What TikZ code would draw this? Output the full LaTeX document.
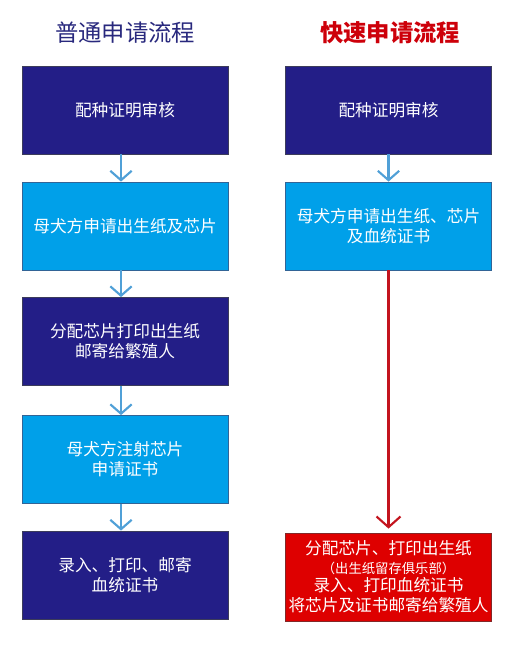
\documentclass[tikz,border=0pt]{standalone}
\usepackage{fontspec}
\setmainfont{Noto Sans CJK SC}
\usetikzlibrary{arrows.meta}
\definecolor{navy}{RGB}{35,30,135}
\definecolor{skyb}{RGB}{0,160,233}
\definecolor{redb}{RGB}{222,0,0}
\definecolor{titlenavy}{RGB}{40,40,125}
\definecolor{titlered}{RGB}{205,0,10}
\definecolor{arrowb}{RGB}{80,160,215}
\definecolor{arrowr}{RGB}{195,20,30}
\definecolor{edgedark}{RGB}{60,60,90}
\definecolor{edgelight}{RGB}{50,100,150}
\definecolor{edgered}{RGB}{130,40,40}
\tikzset{
  boxbase/.style={minimum width=154.5pt, minimum height=66pt, inner sep=0pt, text=white,
    font=\fontsize{12.5}{15}\selectfont, align=center, line width=0.6pt},
  darkbox/.style={boxbase, fill=navy, draw=edgedark},
  lightbox/.style={boxbase, fill=skyb, draw=edgelight},
  redbox/.style={boxbase, fill=redb, draw=edgered},
  bluearrow/.style={draw=arrowb, line width=1.6pt, -{Straight Barb[length=7pt,width=16pt,line width=1.6pt]}},
  redarrow/.style={draw=arrowr, line width=1.6pt, -{Straight Barb[length=8pt,width=18pt,line width=1.6pt]}, shorten >=3pt},
}
\begin{document}
\begin{tikzpicture}[x=0.75pt,y=-0.75pt]
\useasboundingbox (0,0) rectangle (524,652);
\node[text=titlenavy, font=\fontsize{17.5}{20}\selectfont] (t1) at (125,33) {普通申请流程};
\node[text=titlered, font=\fontsize{17.5}{20}\selectfont\bfseries] (t2) at (390,33) {快速申请流程};

\node[darkbox] (a1) at (125,110) {配种证明审核};
\node[lightbox] (a2) at (125,226) {母犬方申请出生纸及芯片};
\node[darkbox] (a3) at (125,341.5) {分配芯片打印出生纸\\邮寄给繁殖人};
\node[lightbox] (a4) at (125,459.5) {母犬方注射芯片\\申请证书};
\node[darkbox] (a5) at (125,575) {录入、打印、邮寄\\血统证书};

\node[darkbox] (b1) at (388.5,110) {配种证明审核};
\node[lightbox] (b2) at (388.5,226) {母犬方申请出生纸、芯片\\及血统证书};
\node[redbox] (b3) at (388.5,577) {分配芯片、打印出生纸\\[-1pt]{\fontsize{10}{11.5}\selectfont （出生纸留存俱乐部）}\\[-1pt]录入、打印血统证书\\将芯片及证书邮寄给繁殖人};

\foreach \u/\v in {a1/a2,a2/a3,a3/a4,a4/a5}
  \draw[bluearrow] ([xshift=-3pt]\u.south) -- ([xshift=-3pt]\v.north);
\draw[bluearrow] (b1.south) -- (b2.north);
\draw[redarrow] (b2.south) -- (b3.north);
\end{tikzpicture}
\end{document}
